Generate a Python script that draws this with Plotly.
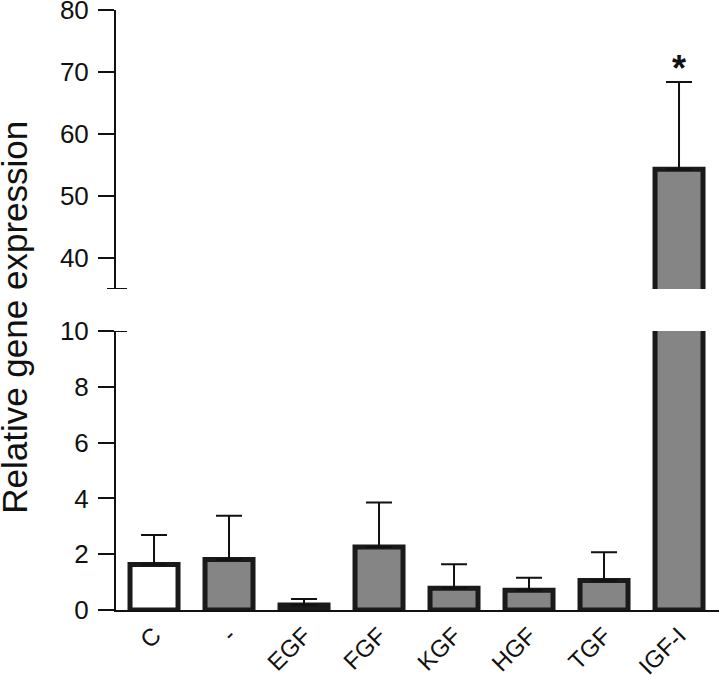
import plotly.graph_objects as go

categories = ["C", "-", "EGF", "FGF", "KGF", "HGF", "TGF", "IGF-I"]
means = [1.63, 1.81, 0.18, 2.26, 0.78, 0.71, 1.06, 54.3]
upper_err = [1.06, 1.57, 0.21, 1.59, 0.86, 0.45, 1.01, 14.1]
fill_colors = ["#ffffff", "#858585", "#858585", "#858585", "#858585", "#858585", "#858585", "#858585"]
lower_ticks = [0, 2, 4, 6, 8, 10]
upper_ticks = [40, 50, 60, 70, 80]

FONT = "Arial, Liberation Sans, sans-serif"
x_idx = list(range(len(categories)))


def bar_trace(xaxis, yaxis):
    return go.Bar(
        x=x_idx, y=means, width=0.64,
        marker=dict(color=fill_colors, line=dict(color="#1a1a1a", width=5)),
        error_y=dict(type="data", array=upper_err, arrayminus=[0] * len(means),
                     symmetric=False, thickness=2, width=13, color="#111111"),
        xaxis=xaxis, yaxis=yaxis, showlegend=False, hoverinfo="skip",
    )


fig = go.Figure()
fig.add_trace(bar_trace("x", "y"))
fig.add_trace(bar_trace("x2", "y2"))

axis_common = dict(showgrid=False, zeroline=False, showline=True, linecolor="#111111",
                   linewidth=2, ticks="outside", ticklen=16, tickwidth=2,
                   tickcolor="#111111", tickfont=dict(family=FONT, size=26, color="#111111"),
                   ticklabelstandoff=4, ticklabeloverflow="allow")

fig.update_layout(
    width=719, height=676,
    margin=dict(l=116, r=0, t=10, b=66, autoexpand=False),
    paper_bgcolor="white", plot_bgcolor="white",
    bargap=0.3,
    xaxis=dict(domain=[0, 1], anchor="y", range=[-0.507, 7.533],
               tickmode="array", tickvals=x_idx, ticktext=categories,
               tickangle=-45, ticks="", ticklen=0, showline=True, linecolor="#111111",
               linewidth=2, showgrid=False, zeroline=False, automargin=False,
               ticklabeloverflow="allow",
               tickfont=dict(family=FONT, size=24, color="#111111")),
    xaxis2=dict(domain=[0, 1], anchor="y2", matches="x", visible=False),
    yaxis=dict(domain=[0, 0.465], range=[0, 10], tickmode="array",
               tickvals=lower_ticks, automargin=False, **axis_common),
    yaxis2=dict(domain=[0.535, 1], range=[35, 80], tickmode="array",
                tickvals=upper_ticks, automargin=False, **axis_common),
)

# axis-break caps
fig.add_shape(type="line", xref="paper", yref="y", xsizemode="pixel", xanchor=0,
              x0=0, x1=11, y0=10, y1=10, line=dict(color="#111111", width=2))
fig.add_shape(type="line", xref="paper", yref="y2", xsizemode="pixel", xanchor=0,
              x0=-9, x1=11, y0=35, y1=35, line=dict(color="#111111", width=2))

# significance marker
fig.add_annotation(x=7, y=means[7] + upper_err[7], xref="x2", yref="y2",
                   text="<b>*</b>", showarrow=False, yanchor="bottom", yshift=-9,
                   font=dict(family=FONT, size=36, color="#111111"))

# y-axis title
fig.add_annotation(x=0, y=0.487, xref="paper", yref="paper", xshift=-101,
                   text="Relative gene expression", textangle=-90, showarrow=False,
                   xanchor="center", yanchor="middle",
                   font=dict(family=FONT, size=35, color="#111111"))

fig.write_html("out.html", config={"displayModeBar": False},
               post_script="document.body.style.margin='0';document.body.style.overflow='hidden';")
